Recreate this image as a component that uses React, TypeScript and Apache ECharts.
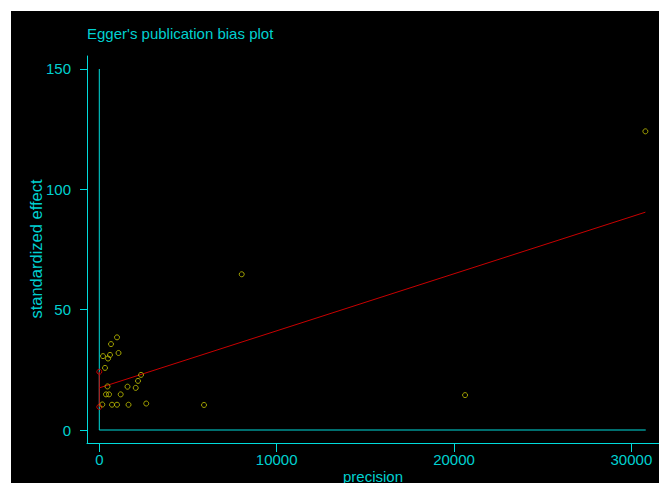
import React, { useEffect, useRef } from "react";
import * as echarts from "echarts";

const precision = [998, 660, 1083, 209, 603, 491, 321, 2352, 2182, 462, 1590, 2053, 378, 547, 1207, 169, 716, 998, 1647, 2645, 5904, 8030, 20623, 30790];
const effect = [38.5, 35.7, 32.0, 30.7, 31.2, 29.7, 25.8, 22.9, 20.4, 18.1, 18.0, 17.5, 14.8, 14.8, 14.8, 10.6, 10.5, 10.5, 10.5, 11.0, 10.4, 64.7, 14.5, 124.1];
const regX = [0, 30790];
const regY = [17.5, 90.5];
const ciY = [9.6, 24.2];
const zeroLineX = [0, 30810];
const zeroLineY = [0, 150];
const xTicks = [0, 10000, 20000, 30000];
const yTicks = [0, 50, 100, 150];

const CYAN = "#00dcdc";
const TEXT = "#00d0d0";
const RED = "#c80000";
const YELLOW = "#c8c800";
const FONT = "Arial, 'Liberation Sans', sans-serif";

export default function App() {
  const ref = useRef<HTMLDivElement>(null);
  useEffect(() => {
    if (!ref.current) return;
    const chart = echarts.init(ref.current, null, { renderer: "svg" });
    chart.setOption({
      animation: false,
      backgroundColor: "#000",
      grid: { left: 76, top: 45, right: 0, bottom: 40 },
      graphic: [
        {
          type: "text",
          x: 76,
          y: 22.5,
          style: { text: "Egger's publication bias plot", fill: TEXT, font: `15px ${FONT}`, textAlign: "left", textVerticalAlign: "middle" },
        },
        {
          type: "text",
          x: 24.5,
          y: 238,
          rotation: Math.PI / 2,
          style: { text: "standardized effect", fill: TEXT, font: `16.5px ${FONT}`, textAlign: "center", textVerticalAlign: "middle" },
        },
        {
          type: "text",
          x: 362,
          y: 465,
          style: { text: "precision", fill: TEXT, font: `15px ${FONT}`, textAlign: "center", textVerticalAlign: "middle" },
        },
      ],
      xAxis: {
        type: "value",
        min: -694,
        max: 31558,
        axisLine: { show: true, onZero: false, lineStyle: { color: CYAN, width: 1 } },
        axisTick: { show: true, customValues: xTicks, length: 9, lineStyle: { color: CYAN } },
        axisLabel: { customValues: xTicks, formatter: (v: number) => String(v), color: TEXT, fontSize: 15, fontFamily: FONT, margin: 9 },
        splitLine: { show: false },
      },
      yAxis: {
        type: "value",
        min: -5.4,
        max: 155.4,
        axisLine: { show: true, onZero: false, lineStyle: { color: CYAN, width: 1 } },
        axisTick: { show: true, customValues: yTicks, length: 7, lineStyle: { color: CYAN } },
        axisLabel: { customValues: yTicks, formatter: (v: number) => String(v), color: TEXT, fontSize: 15, fontFamily: FONT, margin: 16 },
        splitLine: { show: false },
      },
      series: [
        {
          type: "line",
          data: zeroLineX.map((x) => [x, 0]),
          symbol: "none",
          lineStyle: { color: CYAN, width: 1 },
          z: 1,
        },
        {
          type: "line",
          data: zeroLineY.map((y) => [0, y]),
          symbol: "none",
          lineStyle: { color: CYAN, width: 1 },
          z: 1,
        },
        {
          type: "line",
          data: regX.map((x, i) => [x, regY[i]]),
          symbol: "none",
          lineStyle: { color: RED, width: 1 },
          z: 2,
        },
        {
          type: "line",
          data: ciY.map((y) => [0, y]),
          symbol: "circle",
          symbolSize: 5,
          itemStyle: { color: "transparent", borderColor: RED, borderWidth: 1 },
          lineStyle: { color: RED, width: 1 },
          z: 2,
        },
        {
          type: "scatter",
          data: precision.map((p, i) => [p, effect[i]]),
          symbol: "circle",
          symbolSize: 5,
          itemStyle: { color: "transparent", borderColor: YELLOW, borderWidth: 1 },
          z: 3,
        },
      ],
    });
    return () => chart.dispose();
  }, []);
  return (
    <div
      ref={ref}
      style={{ position: "absolute", left: 11, top: 11, width: 648, height: 472, background: "#000" }}
    />
  );
}
